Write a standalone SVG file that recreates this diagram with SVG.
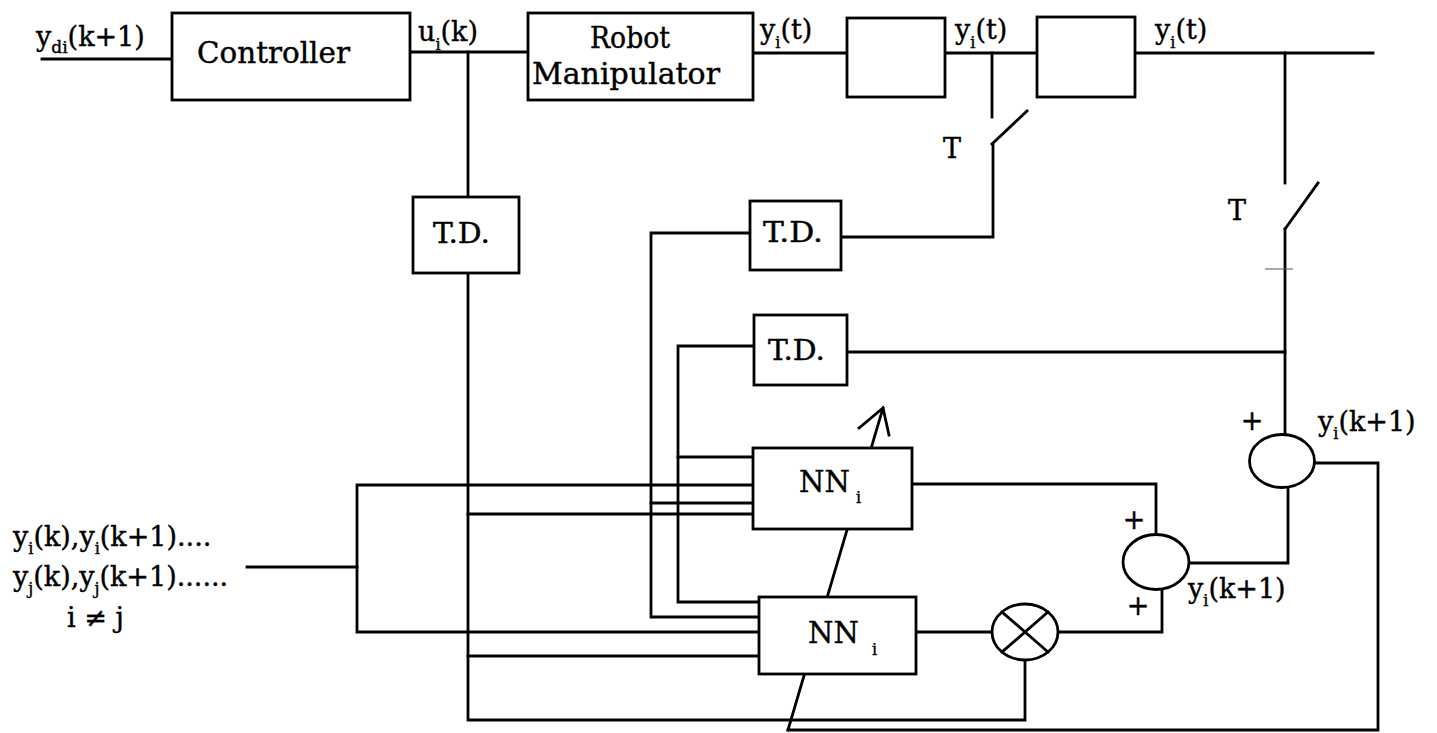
<svg xmlns="http://www.w3.org/2000/svg" width="1437" height="733" viewBox="0 0 1437 733">
<style>
.ln{fill:none;stroke:#000;stroke-width:2.8;stroke-linecap:square;stroke-linejoin:miter}
.bx{fill:#fff;stroke:#000;stroke-width:2.8}
.el{fill:#fff;stroke:#000;stroke-width:2.8}
text{font-family:"DejaVu Serif","Liberation Serif",serif;fill:#000;stroke:#000;stroke-width:0.4}
.lb{font-size:27px}
.bt{font-size:29px}
.sub{font-size:16px}
</style>
<rect width="1437" height="733" fill="#fff"/>
<g id="connectors">
<path class="ln" d="M42,59 H172"/>
<path class="ln" d="M410,52 H528"/>
<path class="ln" d="M468,52 V197"/>
<path class="ln" d="M468,273 V720 H1025 V659"/>
<path class="ln" d="M753,53 H847"/>
<path class="ln" d="M945,53 H1037"/>
<path class="ln" d="M1135,53 H1373"/>
<path class="ln" d="M992,53 V117"/>
<path class="ln" d="M992,144 L1027,111"/>
<path class="ln" d="M993,144 V237 H841"/>
<path class="ln" d="M1285,53 V183"/>
<path class="ln" d="M1285,229 L1318,183"/>
<path class="ln" d="M1285,229 V435"/>
<path class="ln" d="M1285,352 H847"/>
<path d="M1265,269 H1293" stroke="#555" stroke-width="1" fill="none"/>
<path class="ln" d="M750,233 H651 V617 H759"/>
<path class="ln" d="M651,503 H753"/>
<path class="ln" d="M754,346 H678 V602 H759"/>
<path class="ln" d="M678,457 H753"/>
<path class="ln" d="M247,567 H357"/>
<path class="ln" d="M753,485 H357 V632 H759"/>
<path class="ln" d="M468,514 H753"/>
<path class="ln" d="M468,656 H759"/>
<path class="ln" d="M912,484 H1156 V535"/>
<path class="ln" d="M916,632 H992"/>
<path class="ln" d="M1058,632 H1162 V590"/>
<path class="ln" d="M1189,563 H1288 V487"/>
<path class="ln" d="M1315,463 H1378 V730 H788"/>
<path class="ln" d="M788,730 L883,408"/>
<polyline class="ln" points="859,428 883,408 889,435"/>
</g>
<g id="controller">
<rect class="bx" x="172" y="13" width="238" height="87"/>
<text class="bt" x="197" y="63" font-size="30" textLength="153" lengthAdjust="spacingAndGlyphs">Controller</text>
</g>
<g id="robot">
<rect class="bx" x="528" y="13" width="225" height="87"/>
<text class="bt" x="590" y="48" textLength="80" lengthAdjust="spacingAndGlyphs">Robot</text>
<text class="bt" x="532" y="84" font-size="30" textLength="188" lengthAdjust="spacingAndGlyphs">Manipulator</text>
</g>
<g id="block2"><rect class="bx" x="847" y="18" width="98" height="79"/></g>
<g id="block3"><rect class="bx" x="1037" y="17" width="98" height="80"/></g>
<g id="td1">
<rect class="bx" x="413" y="197" width="106" height="76"/>
<text class="lb" x="433" y="243" textLength="57" lengthAdjust="spacingAndGlyphs">T.D.</text>
</g>
<g id="td2">
<rect class="bx" x="750" y="201" width="91" height="69"/>
<text class="lb" x="763" y="242" textLength="60" lengthAdjust="spacingAndGlyphs">T.D.</text>
</g>
<g id="td3">
<rect class="bx" x="754" y="315" width="93" height="70"/>
<text class="lb" x="768" y="360" textLength="57" lengthAdjust="spacingAndGlyphs">T.D.</text>
</g>
<g id="nn-top">
<rect class="bx" x="753" y="448" width="159" height="81"/>
<text class="bt" x="799" y="492">NN</text>
<text class="sub" x="856" y="503">i</text>
</g>
<g id="nn-bottom">
<rect class="bx" x="759" y="597" width="157" height="77"/>
<text class="bt" x="808" y="643">NN</text>
<text class="sub" x="872" y="655">i</text>
</g>
<g id="multiplier">
<ellipse class="el" cx="1025" cy="632" rx="33" ry="28"/>
<path class="ln" d="M1002,612 L1048,652 M1048,612 L1002,652"/>
</g>
<g id="summer-lower">
<ellipse class="el" cx="1156" cy="562" rx="33" ry="27.5"/>
<text class="lb" x="1134" y="529" text-anchor="middle" font-size="26">+</text>
<text class="lb" x="1138" y="615" text-anchor="middle" font-size="26">+</text>
</g>
<g id="summer-upper">
<ellipse class="el" cx="1282" cy="461" rx="32.5" ry="26.5"/>
<text class="lb" x="1252" y="430" text-anchor="middle" font-size="26">+</text>
</g>
<g id="labels">
<text class="lb" x="36" y="46" font-size="28">y<tspan font-size="17" dy="7">di</tspan><tspan dy="-7">(k+1)</tspan></text>
<text class="lb" x="418" y="41" font-size="28">u<tspan class="sub" dy="9">i</tspan><tspan dy="-9">(k)</tspan></text>
<text class="lb" x="760" y="39" font-size="28">y<tspan class="sub" dy="9">i</tspan><tspan dy="-9">(t)</tspan></text>
<text class="lb" x="955" y="39" font-size="28">y<tspan class="sub" dy="9">i</tspan><tspan dy="-9">(t)</tspan></text>
<text class="lb" x="1155" y="39" font-size="28">y<tspan class="sub" dy="9">i</tspan><tspan dy="-9">(t)</tspan></text>
<text class="lb" x="943" y="158" font-size="30">T</text>
<text class="lb" x="1228" y="220" font-size="30">T</text>
<text class="lb" x="1318" y="431">y<tspan class="sub" dy="8">i</tspan><tspan dy="-8">(k+1)</tspan></text>
<text class="lb" x="1188" y="598">y<tspan class="sub" dy="8">i</tspan><tspan dy="-8">(k+1)</tspan></text>
<text class="lb" x="13" y="546">y<tspan class="sub" dy="8">i</tspan><tspan dy="-8">(k),y</tspan><tspan class="sub" dy="8">i</tspan><tspan dy="-8">(k+1)....</tspan></text>
<text class="lb" x="13" y="586">y<tspan class="sub" dy="8">j</tspan><tspan dy="-8">(k),y</tspan><tspan class="sub" dy="8">j</tspan><tspan dy="-8">(k+1)......</tspan></text>
<text class="lb" x="67" y="627">i ≠ j</text>
</g>
</svg>
